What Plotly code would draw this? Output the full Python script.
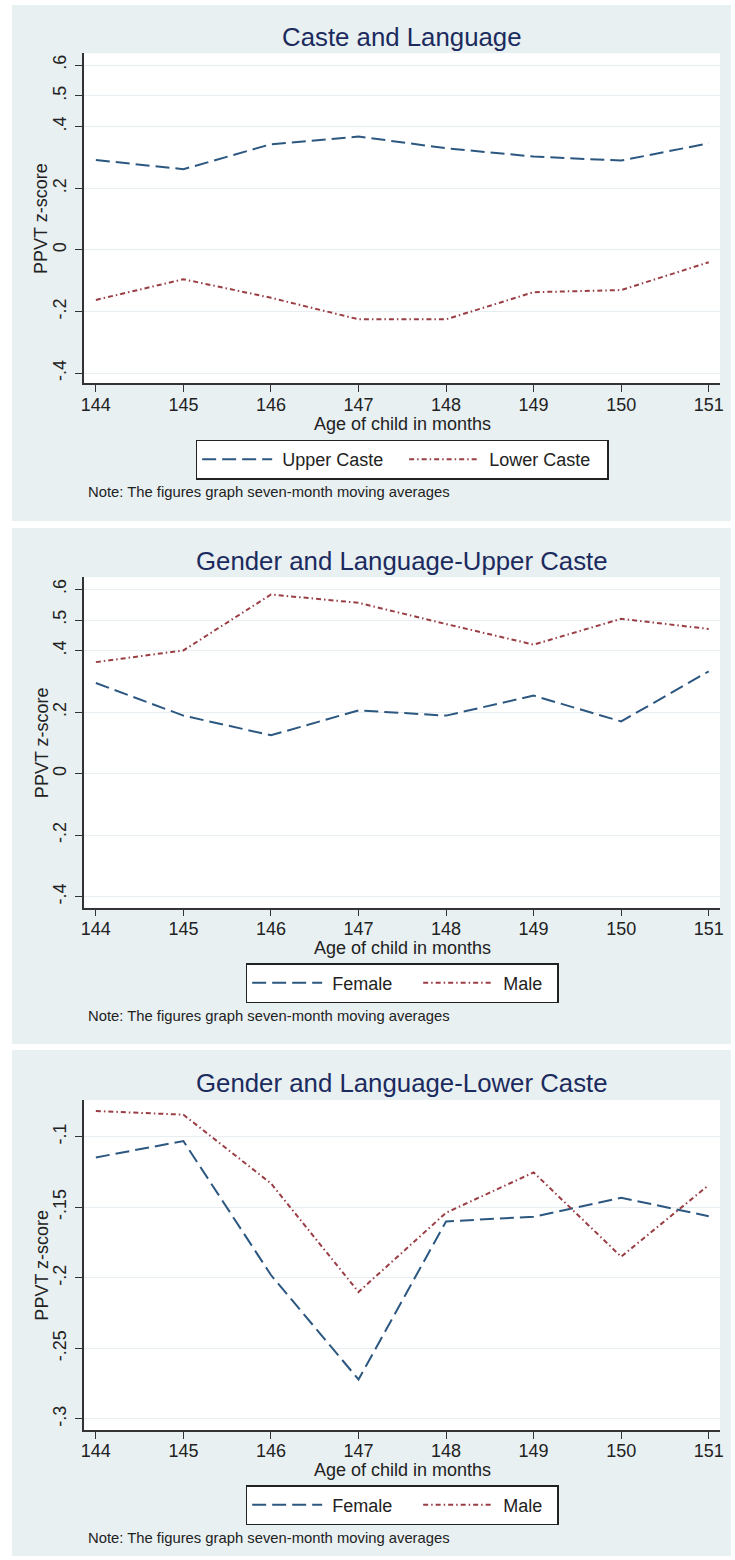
import plotly.graph_objects as go

W, H = 735, 1560

# ---------------- data ----------------
months = [144, 145, 146, 147, 148, 149, 150, 151]

p1_upper = [0.292, 0.262, 0.343, 0.368, 0.330, 0.303, 0.290, 0.346]
p1_lower = [-0.162, -0.095, -0.155, -0.225, -0.225, -0.137, -0.130, -0.040]

p2_female = [0.295, 0.189, 0.125, 0.206, 0.189, 0.254, 0.170, 0.333]
p2_male = [0.363, 0.401, 0.583, 0.556, 0.487, 0.420, 0.504, 0.471]

p3_female = [-0.1147, -0.1031, -0.198, -0.272, -0.160, -0.1567, -0.1433, -0.1563]
p3_male = [-0.0818, -0.0844, -0.1331, -0.210, -0.1539, -0.1253, -0.185, -0.1343]

yticks_a = [-0.4, -0.2, 0, 0.2, 0.4, 0.5, 0.6]
yticks_a_text = ["-.4", "-.2", "0", ".2", ".4", ".5", ".6"]
yticks_b = [-0.3, -0.25, -0.2, -0.15, -0.1]
yticks_b_text = ["-.3", "-.25", "-.2", "-.15", "-.1"]

titles = ["Caste and Language", "Gender and Language-Upper Caste", "Gender and Language-Lower Caste"]
series_names = [["Upper Caste", "Lower Caste"], ["Female", "Male"], ["Female", "Male"]]
note = "Note: The figures graph seven-month moving averages"
xtitle = "Age of child in months"
ytitle = "PPVT z-score"

# ---------------- styling / layout ----------------
NAVY = "#2b5780"
MAROON = "#9a3e45"
TITLE_C = "#1c2b5e"
BG = "#e8f0f2"
GRID = "#e6eef1"
AX = "#333333"
NB = "\u00a0"

def px(x):
    return x / W

def py(y):
    return 1 - y / H

panels = [
    dict(top=53.3, bot=383.3, yr=[-0.4325, 0.638], bg=(5, 521), title=37, xt=424.0, leg=459.5, note=491.7,
         data=(p1_upper, p1_lower), ticks=(yticks_a, yticks_a_text), lw=(122, 118)),
    dict(top=577.3, bot=907.7, yr=[-0.436, 0.639], bg=(528, 1044), title=560.7, xt=948.0, leg=983.0, note=1015.7,
         data=(p2_female, p2_male), ticks=(yticks_a, yticks_a_text), lw=(86, 54)),
    dict(top=1100.0, bot=1430.0, yr=[-0.3078, -0.074], bg=(1050, 1556), title=1082.7, xt=1470.0, leg=1505.0, note=1538.0,
         data=(p3_female, p3_male), ticks=(yticks_b, yticks_b_text), lw=(86, 54)),
]

XL, XR = 82, 724
fig = go.Figure()
shapes = []
annotations = []
layout = dict(width=W, height=H, margin=dict(l=0, r=0, t=0, b=0),
              paper_bgcolor="white", plot_bgcolor="rgba(0,0,0,0)",
              font=dict(family="Liberation Sans, Arial, sans-serif", color="#222222"))

for i, p in enumerate(panels):
    n = i + 1
    xa = "x" if n == 1 else f"x{n}"
    ya = "y" if n == 1 else f"y{n}"
    lg = "legend" if n == 1 else f"legend{n}"
    a, b = p["data"]
    fig.add_trace(go.Scatter(x=months, y=a, mode="lines", name=NB + series_names[i][0],
                             line=dict(color=NAVY, width=2, dash="14px,6px"), legendwidth=p["lw"][0],
                             xaxis=xa, yaxis=ya, legend=lg))
    fig.add_trace(go.Scatter(x=months, y=b, mode="lines", name=NB + series_names[i][1],
                             line=dict(color=MAROON, width=2, dash="5px,3px,1.5px,3px"), legendwidth=p["lw"][1],
                             xaxis=xa, yaxis=ya, legend=lg))
    # backgrounds
    shapes.append(dict(type="rect", xref="paper", yref="paper", x0=px(9), x1=1,
                       y0=py(p["bg"][1]), y1=py(p["bg"][0]), fillcolor=BG, line=dict(width=0), layer="below"))
    shapes.append(dict(type="rect", xref="paper", yref="paper", x0=px(XL), x1=px(XR),
                       y0=py(p["bot"]), y1=py(p["top"]), fillcolor="white", line=dict(width=0), layer="below"))
    xkey = "xaxis" if n == 1 else f"xaxis{n}"
    ykey = "yaxis" if n == 1 else f"yaxis{n}"
    layout[xkey] = dict(domain=[px(XL), px(XR)], anchor=ya, range=[143.867, 151.13],
                        tickvals=months, ticktext=[str(m) for m in months],
                        showgrid=False, zeroline=False, showline=True, linecolor=AX, linewidth=1.5,
                        ticks="outside", ticklen=7, tickcolor=AX, tickwidth=1.2, ticklabelstandoff=-3,
                        tickfont=dict(size=18, color="#222222"))
    layout[ykey] = dict(domain=[py(p["bot"]), py(p["top"])], anchor=xa, range=p["yr"],
                        tickvals=p["ticks"][0], ticktext=p["ticks"][1], tickangle=-90,
                        showgrid=True, gridcolor=GRID, gridwidth=1.2, zeroline=False,
                        showline=True, linecolor=AX, linewidth=1.5, ticklabelstandoff=2,
                        ticks="outside", ticklen=7, tickcolor=AX, tickwidth=1.2,
                        tickfont=dict(size=18, color="#222222"))
    layout[lg] = dict(orientation="h", x=px(403), xanchor="center", y=py(p["leg"]), yanchor="middle",
                      bgcolor="white", bordercolor="#222222", borderwidth=1.5,
                      font=dict(size=18, color="#222222"), itemwidth=70)
    annotations.append(dict(text=titles[i], x=px(403), y=py(p["title"]), xref="paper", yref="paper",
                            showarrow=False, xanchor="center", yanchor="middle",
                            font=dict(size=25.8, color=TITLE_C)))
    annotations.append(dict(text=xtitle, x=px(403), y=py(p["xt"]), xref="paper", yref="paper",
                            showarrow=False, xanchor="center", yanchor="middle",
                            font=dict(size=18, color="#222222")))
    annotations.append(dict(text=ytitle, x=px(39), y=py((p["top"] + p["bot"]) / 2), xref="paper", yref="paper",
                            showarrow=False, xanchor="center", yanchor="middle", textangle=-90,
                            font=dict(size=18, color="#222222")))
    annotations.append(dict(text=note, x=px(84), y=py(p["note"]), xref="paper", yref="paper",
                            showarrow=False, xanchor="left", yanchor="middle",
                            font=dict(size=14.8, color="#222222")))

layout["shapes"] = shapes
layout["annotations"] = annotations
layout["showlegend"] = True
fig.update_layout(**layout)
fig.write_html("out.html", config={"displayModeBar": False},
               post_script="document.body.style.margin='0';document.body.style.overflow='hidden';")
